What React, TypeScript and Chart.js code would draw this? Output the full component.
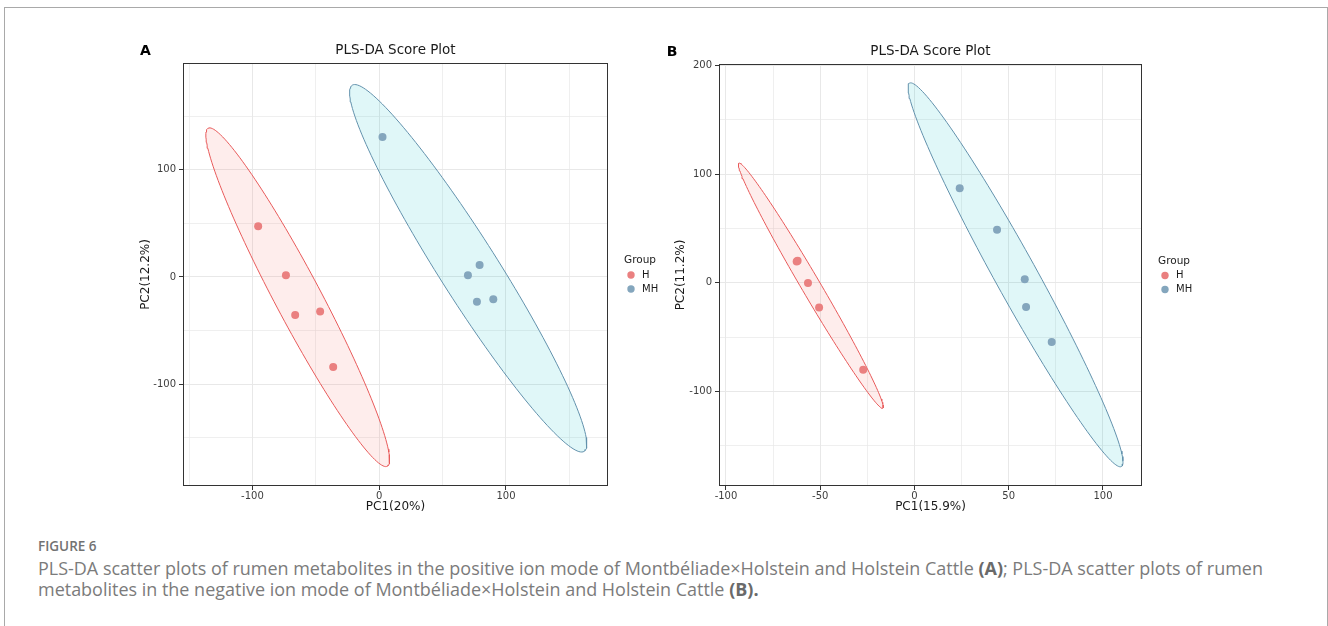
import React, { useEffect, useLayoutEffect, useRef, useState } from 'react';
import { Chart, registerables } from 'chart.js';

Chart.register(...registerables);
Chart.defaults.font.family = '"DejaVu Sans", sans-serif';

// ---------- shared legend / groups ----------
const groups = ['H', 'MH'];
const legendTitle = 'Group';
const plotTitle = 'PLS-DA Score Plot';
const pointColors = ['rgb(234,128,128)', 'rgb(132,166,189)'];
const strokeColors = ['rgb(232,90,90)', 'rgb(98,145,172)'];
const fillColors = ['rgba(248,118,109,0.13)', 'rgba(0,191,196,0.12)'];

// ---------- Panel A (positive ion mode) ----------
const aH_PC1 = [-95.5, -73.6, -66.3, -46.6, -36.3];
const aH_PC2 = [47.3, 1.6, -35.4, -32.3, -84.0];
const aMH_PC1 = [2.6, 70.0, 79.2, 77.1, 90.0];
const aMH_PC2 = [130.6, 1.6, 11.2, -23.0, -20.8];
// 95% confidence ellipses: centre, semi-major vector, semi-minor vector (data units)
const aEllipseCenter = [[-64.3, -18.9], [70.2, 8.1]];
const aEllipseMajor = [[-70.7, 157.6], [-91.5, 170.7]];
const aEllipseMinor = [[16.0, 10.1], [19.6, 14.6]];
const aXRange = [-154.8, 180.5];
const aYRange = [-194.9, 199.5];
const aXGrid = [-150, -100, -50, 0, 50, 100, 150];
const aXLabels = [-100, 0, 100];
const aYGrid = [-150, -100, -50, 0, 50, 100, 150];
const aYLabels = [-100, 0, 100];
const aXTitle = 'PC1(20%)';
const aYTitle = 'PC2(12.2%)';

// ---------- Panel B (negative ion mode) ----------
const bH_PC1 = [-62.5, -62.0, -56.5, -50.6, -27.2];
const bH_PC2 = [19.6, 20.4, 0.0, -22.7, -80.0];
const bMH_PC1 = [24.0, 43.8, 58.5, 59.2, 72.8];
const bMH_PC2 = [87.1, 48.8, 3.4, -22.1, -54.3];
const bEllipseCenter = [[-55.0, -2.6], [53.6, 7.4]];
const bEllipseMajor = [[-38.2, 112.7], [-56.2, 176.3]];
const bEllipseMinor = [[4.3, 4.4], [9.7, 9.4]];
const bXRange = [-103.7, 120.7];
const bYRange = [-186.8, 201.3];
const bXGrid = [-100, -75, -50, -25, 0, 25, 50, 75, 100];
const bXLabels = [-100, -50, 0, 50, 100];
const bYGrid = [-150, -100, -50, 0, 50, 100, 150, 200];
const bYLabels = [-100, 0, 100, 200];
const bXTitle = 'PC1(15.9%)';
const bYTitle = 'PC2(11.2%)';

// ---------- caption ----------
const captionLabel = 'FIGURE 6';
const captionLine1 = [
  'PLS-DA scatter plots of rumen metabolites in the positive ion mode of Montbéliade×Holstein and Holstein Cattle ',
  '(A)',
  '; PLS-DA scatter plots of rumen',
];
const captionLine2 = [
  'metabolites in the negative ion mode of Montbéliade×Holstein and Holstein Cattle ',
  '(B).',
];

// ---------- helpers ----------
function pairs(xs: number[], ys: number[]) {
  return xs.map((x, i) => ({ x, y: ys[i] }));
}

function ellipseOutline(c: number[], a: number[], b: number[], n = 160) {
  const out: { x: number; y: number }[] = [];
  for (let i = 0; i <= n; i++) {
    const t = (i / n) * Math.PI * 2;
    out.push({
      x: c[0] + a[0] * Math.cos(t) + b[0] * Math.sin(t),
      y: c[1] + a[1] * Math.cos(t) + b[1] * Math.sin(t),
    });
  }
  return out;
}

function axis(
  isX: boolean,
  range: number[],
  gridVals: number[],
  labelVals: number[],
  title: string,
  size: number,
  titlePad: number
) {
  const isMajor = (v: any) => labelVals.includes(v);
  return {
    type: 'linear',
    position: isX ? 'bottom' : 'left',
    min: range[0],
    max: range[1],
    afterBuildTicks: (s: any) => {
      s.ticks = gridVals.map((v) => ({ value: v }));
    },
    afterFit: (s: any) => {
      if (isX) s.height = size;
      else s.width = size;
    },
    ticks: {
      autoSkip: false,
      maxRotation: 0,
      minRotation: 0,
      padding: isX ? 0 : 3,
      color: '#3d3d3d',
      font: { size: 10 },
      callback: (v: any) => (isMajor(v) ? String(v) : ''),
    },
    grid: {
      color: '#e8e8e8',
      lineWidth: (c: any) => (c.tick && isMajor(c.tick.value) ? 1 : 0.7),
      tickColor: (c: any) => (c.tick && isMajor(c.tick.value) ? '#333333' : 'rgba(0,0,0,0)'),
      tickLength: 4,
      tickWidth: 1,
      drawTicks: true,
    },
    border: { display: false },
    title: {
      display: true,
      text: title,
      color: '#1a1a1a',
      font: { size: 12 },
      padding: isX ? { top: 0, bottom: titlePad } : { top: titlePad, bottom: 0 },
    },
  };
}

const decorPlugin = {
  id: 'decor',
  afterDraw(chart: any, _args: any, opts: any) {
    const { ctx, chartArea: ca } = chart;
    ctx.save();
    // panel border
    ctx.strokeStyle = '#333333';
    ctx.lineWidth = 1;
    ctx.strokeRect(ca.left + 0.5, ca.top + 0.5, ca.right - ca.left - 1, ca.bottom - ca.top - 1);
    // plot title
    ctx.fillStyle = '#1a1a1a';
    ctx.textBaseline = 'middle';
    ctx.textAlign = 'center';
    ctx.font = '13.5px "DejaVu Sans", sans-serif';
    ctx.fillText(opts.title, (ca.left + ca.right) / 2, ca.top - 12.5);
    // panel letter
    ctx.textAlign = 'left';
    ctx.font = 'bold 14px "DejaVu Sans", sans-serif';
    ctx.fillStyle = '#000000';
    ctx.fillText(opts.letter, opts.letterX, ca.top - 11.5);
    // legend
    const lx = ca.right + 16;
    const cy = (ca.top + ca.bottom) / 2;
    ctx.fillStyle = '#1a1a1a';
    ctx.font = '10.5px "DejaVu Sans", sans-serif';
    ctx.fillText(opts.legendTitle, lx, cy - 14);
    groups.forEach((g, i) => {
      const y = cy + 0.5 + 14 * i;
      ctx.fillStyle = pointColors[i];
      ctx.beginPath();
      ctx.arc(lx + 7, y, 3.7, 0, Math.PI * 2);
      ctx.fill();
      ctx.fillStyle = '#1a1a1a';
      ctx.font = '10px "DejaVu Sans", sans-serif';
      ctx.fillText(g, lx + 18, y);
    });
    ctx.restore();
  },
};

function buildConfig(p: any) {
  const pointSets = [
    [p.hx, p.hy],
    [p.mx, p.my],
  ].map(([xs, ys], i) => ({
    label: groups[i],
    data: pairs(xs, ys),
    showLine: false,
    pointRadius: 4,
    pointBackgroundColor: pointColors[i],
    pointBorderWidth: 0,
    pointBorderColor: pointColors[i],
  }));
  const ellSets = groups.map((g, i) => ({
    label: g + ' ellipse',
    data: ellipseOutline(p.ec[i], p.ea[i], p.eb[i]),
    showLine: true,
    pointRadius: 0,
    borderColor: strokeColors[i],
    borderWidth: 1,
    backgroundColor: fillColors[i],
    fill: 'shape',
    tension: 0,
  }));
  return {
    type: 'scatter',
    data: { datasets: [...pointSets, ...ellSets] },
    options: {
      responsive: false,
      animation: false,
      events: [],
      layout: { padding: p.padding },
      scales: {
        x: axis(true, p.xr, p.xg, p.xl, p.xt, p.xSize, 5.5),
        y: axis(false, p.yr, p.yg, p.yl, p.yt, p.ySize, 18.8),
      },
      plugins: {
        legend: { display: false },
        title: { display: false },
        tooltip: { enabled: false },
        decor: { title: plotTitle, letter: p.letter, letterX: p.letterX, legendTitle },
      },
    },
    plugins: [decorPlugin],
  };
}

function Panel({ params, left, top, width, height }: any) {
  const ref = useRef<HTMLCanvasElement>(null);
  useEffect(() => {
    const chart = new Chart(ref.current as HTMLCanvasElement, buildConfig(params) as any);
    return () => chart.destroy();
  }, []);
  return (
    <div style={{ position: 'absolute', left, top, width, height }}>
      <canvas ref={ref} width={width} height={height} style={{ display: 'block' }} />
    </div>
  );
}

const panelAParams = {
  hx: aH_PC1, hy: aH_PC2, mx: aMH_PC1, my: aMH_PC2,
  ec: aEllipseCenter, ea: aEllipseMajor, eb: aEllipseMinor,
  xr: aXRange, yr: aYRange, xg: aXGrid, xl: aXLabels, yg: aYGrid, yl: aYLabels,
  xt: aXTitle, yt: aYTitle,
  padding: { left: 0, top: 33, right: 72, bottom: 0 },
  xSize: 34, ySize: 63, letter: 'A', letterX: 20,
};

const panelBParams = {
  hx: bH_PC1, hy: bH_PC2, mx: bMH_PC1, my: bMH_PC2,
  ec: bEllipseCenter, ea: bEllipseMajor, eb: bEllipseMinor,
  xr: bXRange, yr: bYRange, xg: bXGrid, xl: bXLabels, yg: bYGrid, yl: bYLabels,
  xt: bXTitle, yt: bYTitle,
  padding: { left: 0, top: 34, right: 78, bottom: 0 },
  xSize: 34, ySize: 64, letter: 'B', letterX: 11.7,
};

function Caption() {
  const ref = useRef<HTMLSpanElement>(null);
  const [size, setSize] = useState(16);
  useLayoutEffect(() => {
    if (!ref.current) return;
    const w = ref.current.getBoundingClientRect().width;
    if (w > 0) setSize((16 * 1226) / w);
  }, []);
  const base = {
    fontFamily: '"Open Sans", sans-serif',
    color: '#7b7b7b',
    whiteSpace: 'nowrap' as const,
  };
  return (
    <>
      <div
        style={{
          ...base,
          position: 'absolute', left: 38, top: 537, fontSize: 13.5, fontWeight: 600, lineHeight: '19px',
          color: '#727272',
        }}
      >
        {captionLabel}
      </div>
      <div style={{ ...base, position: 'absolute', left: 38, top: 558, fontSize: size, lineHeight: '21px' }}>
        <div>
          <span ref={ref} style={{ display: 'inline-block' }}>
            {captionLine1[0]}
            <b style={{ color: '#6a6a6a' }}>{captionLine1[1]}</b>
            {captionLine1[2]}
          </span>
        </div>
        <div>
          {captionLine2[0]}
          <b style={{ color: '#6a6a6a' }}>{captionLine2[1]}</b>
        </div>
      </div>
    </>
  );
}

export default function App() {
  return (
    <div
      style={{
        position: 'fixed', left: 0, top: 0, width: 1328, height: 626,
        background: '#ffffff', overflow: 'hidden',
      }}
    >
      <div
        style={{
          position: 'absolute', left: 4, top: 7, width: 1324, height: 700,
          border: '1px solid #a9a9a9', boxSizing: 'border-box',
        }}
      />
      <Panel params={panelAParams} left={120} top={30} width={560} height={490} />
      <Panel params={panelBParams} left={655} top={30} width={565} height={490} />
      <Caption />
    </div>
  );
}
